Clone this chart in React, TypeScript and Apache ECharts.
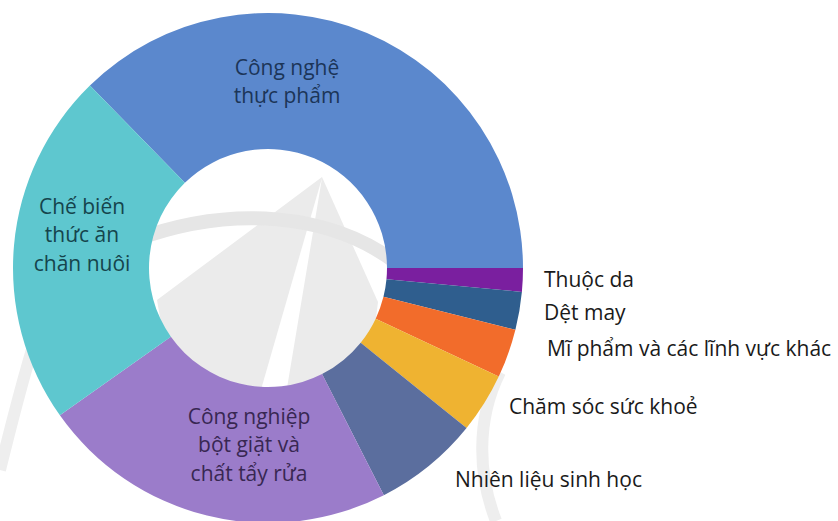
import React, { useEffect, useRef } from "react";
import * as echarts from "echarts";

// Categories in drawing order (clockwise from the top-left boundary)
const categories = [
  "Công nghệ\nthực phẩm",
  "Thuộc da",
  "Dệt may",
  "Mĩ phẩm và các lĩnh vực khác",
  "Chăm sóc sức khoẻ",
  "Nhiên liệu sinh học",
  "Công nghiệp\nbột giặt và\nchất tẩy rửa",
  "Chế biến\nthức ăn\nchăn nuôi",
];
// Share of each field (%)
const shares = [37.3, 1.5, 2.4, 3.1, 3.8, 6.7, 22.7, 22.5];
const sliceColors = [
  "#5b88cd",
  "#7a1f9f",
  "#2f5e8e",
  "#f26c2b",
  "#efb331",
  "#5b6e9e",
  "#9b7cca",
  "#5ec7cf",
];
const labelColors = [
  "#1c3558",
  "#1a1a1a",
  "#1a1a1a",
  "#1a1a1a",
  "#1a1a1a",
  "#1a1a1a",
  "#382752",
  "#15444c",
];
const insideLabel = [true, false, false, false, false, false, true, true];
// label anchor positions (layout only)
const labelPos: [number, number][] = [
  [287, 81],
  [544, 279],
  [544, 312],
  [547, 348],
  [509, 406],
  [455, 479],
  [249, 444],
  [82, 234],
];

export default function App() {
  const ref = useRef<HTMLDivElement>(null);
  useEffect(() => {
    if (!ref.current) return;
    const chart = echarts.init(ref.current, undefined, { renderer: "svg" });
    const wm = "#ebebeb";
    chart.setOption({
      animation: false,
      backgroundColor: "#ffffff",
      graphic: [
        {
          type: "polygon",
          z: 0,
          shape: {
            points: [
              [322, 177],
              [157, 300],
              [175, 405],
              [365, 405],
              [378, 302],
            ],
          },
          style: { fill: wm },
        },
        {
          type: "polygon",
          z: 1,
          shape: {
            points: [
              [322, 178],
              [258, 400],
              [285, 400],
            ],
          },
          style: { fill: "#ffffff" },
        },
        {
          type: "bezierCurve",
          z: 1,
          shape: { x1: 135, y1: 240, cpx1: 230, cpy1: 205, cpx2: 330, cpy2: 212, x2: 398, y2: 264 },
          style: { stroke: "#e6e6e6", lineWidth: 14, fill: null },
        },
        {
          type: "bezierCurve",
          z: 0,
          shape: { x1: 500, y1: 372, cpx1: 476, cpy1: 420, cpx2: 478, cpy2: 475, x2: 496, y2: 521 },
          style: { stroke: "#eeeeee", lineWidth: 12, fill: null },
        },
        {
          type: "bezierCurve",
          z: 0,
          shape: { x1: 38, y1: 330, cpx1: 22, cpy1: 380, cpx2: 10, cpy2: 430, x2: 0, y2: 470 },
          style: { stroke: "#eeeeee", lineWidth: 12, fill: null },
        },
      ],
      series: [
        {
          type: "pie",
          z: 2,
          center: [268, 268],
          radius: [119, 255],
          startAngle: 134.3,
          clockwise: true,
          avoidLabelOverlap: false,
          itemStyle: { borderWidth: 0 },
          labelLine: { show: false },
          label: {
            show: true,
            fontFamily: "Open Sans",
            fontSize: 21,
            formatter: "{b}",
          },
          emphasis: { disabled: true },
          labelLayout: (p: any) => {
            const i = p.dataIndex;
            return {
              x: labelPos[i][0],
              y: labelPos[i][1],
              align: insideLabel[i] ? "center" : "left",
              verticalAlign: "middle",
            };
          },
          data: categories.map((name, i) => ({
            name,
            value: shares[i],
            itemStyle: { color: sliceColors[i] },
            label: {
              position: insideLabel[i] ? "inside" : "outside",
              color: labelColors[i],
              align: insideLabel[i] ? "center" : "left",
              lineHeight: insideLabel[i] ? 28.5 : 24,
            },
          })),
        },
      ],
    });
    return () => chart.dispose();
  }, []);
  return (
    <div
      ref={ref}
      style={{ position: "fixed", left: 0, top: 0, width: 838, height: 521 }}
    />
  );
}
